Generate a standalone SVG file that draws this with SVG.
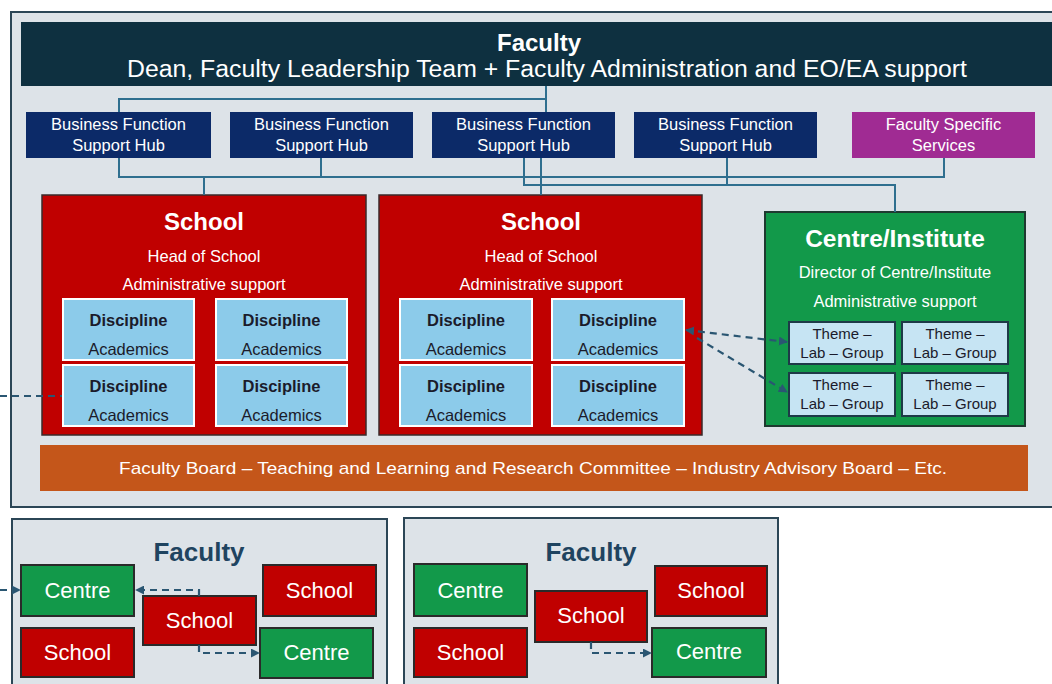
<svg xmlns="http://www.w3.org/2000/svg" width="1052" height="684" viewBox="0 0 1052 684">
  <defs>
    <style>
      .frame { fill: #dde3e8; stroke: #2b4656; stroke-width: 2; }
      .hub { fill: #0c2a68; }
      .fss { fill: #a02b93; }
      .school { fill: #c00000; stroke: #3a2a2a; stroke-width: 1.5; }
      .centre { fill: #12994a; stroke: #1e3a30; stroke-width: 2; }
      .disc { fill: #8ccbea; stroke: #ffffff; stroke-width: 2; }
      .theme { fill: #c6e4f3; stroke: #1e3a48; stroke-width: 2; }
      .small-school { fill: #c00000; stroke: #2a2a2a; stroke-width: 2; }
      .small-centre { fill: #12994a; stroke: #2a2a2a; stroke-width: 2; }
      .link { fill: none; stroke: #2f6f8f; stroke-width: 2; }
      .dash { fill: none; stroke: #2a5672; stroke-width: 2.2; stroke-dasharray: 7 5; }
      text { font-family: "Liberation Sans", Arial, sans-serif; text-anchor: middle; }
      .w { fill: #ffffff; }
      .d { fill: #1b1b2b; }
      .b { font-weight: bold; }
      .t16 { font-size: 16.5px; }
      .t15 { font-size: 15px; }
      .t22 { font-size: 22px; }
      .t24 { font-size: 24px; }
    </style>
    <marker id="arrow" viewBox="0 0 10 10" refX="9" refY="5" markerWidth="9" markerHeight="9" markerUnits="userSpaceOnUse" orient="auto-start-reverse">
      <path d="M0,0 L10,5 L0,10 z" fill="#2a5672"/>
    </marker>
  </defs>

  <rect width="1052" height="684" fill="#ffffff"/>

  <!-- main faculty frame -->
  <g id="faculty-main">
    <rect class="frame" x="11" y="12" width="1060" height="495"/>
  </g>

  <!-- faculty header bar -->
  <g id="faculty-header">
    <rect x="21" y="22" width="1040" height="64" fill="#0e3040"/>
    <text class="w b t24" x="539" y="51">Faculty</text>
    <text class="w" x="547" y="77" font-size="23" textLength="840" lengthAdjust="spacingAndGlyphs">Dean, Faculty Leadership Team + Faculty Administration and EO/EA support</text>
  </g>

  <!-- support hubs -->
  <g id="hub-1">
    <rect class="hub" x="26" y="112" width="185" height="46"/>
    <text class="w t16" x="118.5" y="130">Business Function</text>
    <text class="w t16" x="118.5" y="151">Support Hub</text>
  </g>
  <g id="hub-2">
    <rect class="hub" x="230" y="112" width="183" height="46"/>
    <text class="w t16" x="321.5" y="130">Business Function</text>
    <text class="w t16" x="321.5" y="151">Support Hub</text>
  </g>
  <g id="hub-3">
    <rect class="hub" x="432" y="112" width="183" height="46"/>
    <text class="w t16" x="523.5" y="130">Business Function</text>
    <text class="w t16" x="523.5" y="151">Support Hub</text>
  </g>
  <g id="hub-4">
    <rect class="hub" x="634" y="112" width="183" height="46"/>
    <text class="w t16" x="725.5" y="130">Business Function</text>
    <text class="w t16" x="725.5" y="151">Support Hub</text>
  </g>
  <g id="faculty-specific-services">
    <rect class="fss" x="852" y="112" width="183" height="46"/>
    <text class="w t16" x="943.5" y="130">Faculty Specific</text>
    <text class="w t16" x="943.5" y="151">Services</text>
  </g>

  <!-- school 1 -->
  <g id="school-1">
    <rect class="school" x="42" y="195" width="324" height="240"/>
    <text class="w b t24" x="204" y="230">School</text>
    <text class="w t16" x="204" y="262">Head of School</text>
    <text class="w t16" x="204" y="290">Administrative support</text>
    <rect class="disc" x="63" y="299" width="131" height="61"/>
    <rect class="disc" x="216" y="299" width="131" height="61"/>
    <rect class="disc" x="63" y="365" width="131" height="61"/>
    <rect class="disc" x="216" y="365" width="131" height="61"/>
    <text class="d b t16" x="128.5" y="326">Discipline</text>
    <text class="d t16" x="128.5" y="355">Academics</text>
    <text class="d b t16" x="281.5" y="326">Discipline</text>
    <text class="d t16" x="281.5" y="355">Academics</text>
    <text class="d b t16" x="128.5" y="392">Discipline</text>
    <text class="d t16" x="128.5" y="421">Academics</text>
    <text class="d b t16" x="281.5" y="392">Discipline</text>
    <text class="d t16" x="281.5" y="421">Academics</text>
  </g>

  <!-- school 2 -->
  <g id="school-2">
    <rect class="school" x="379" y="195" width="323" height="240"/>
    <text class="w b t24" x="541" y="230">School</text>
    <text class="w t16" x="541" y="262">Head of School</text>
    <text class="w t16" x="541" y="290">Administrative support</text>
    <rect class="disc" x="400" y="299" width="132" height="61"/>
    <rect class="disc" x="552" y="299" width="132" height="61"/>
    <rect class="disc" x="400" y="365" width="132" height="61"/>
    <rect class="disc" x="552" y="365" width="132" height="61"/>
    <text class="d b t16" x="466" y="326">Discipline</text>
    <text class="d t16" x="466" y="355">Academics</text>
    <text class="d b t16" x="618" y="326">Discipline</text>
    <text class="d t16" x="618" y="355">Academics</text>
    <text class="d b t16" x="466" y="392">Discipline</text>
    <text class="d t16" x="466" y="421">Academics</text>
    <text class="d b t16" x="618" y="392">Discipline</text>
    <text class="d t16" x="618" y="421">Academics</text>
  </g>

  <!-- centre / institute -->
  <g id="centre-institute">
    <rect class="centre" x="765" y="212" width="260" height="214"/>
    <text class="w b" x="895" y="247" font-size="24.5">Centre/Institute</text>
    <text class="w t16" x="895" y="278">Director of Centre/Institute</text>
    <text class="w t16" x="895" y="307">Administrative support</text>
    <rect class="theme" x="789" y="322" width="106" height="42"/>
    <rect class="theme" x="902" y="322" width="106" height="42"/>
    <rect class="theme" x="789" y="373" width="106" height="43"/>
    <rect class="theme" x="902" y="373" width="106" height="43"/>
    <text class="d t15" x="842" y="339">Theme –</text>
    <text class="d t15" x="842" y="358">Lab – Group</text>
    <text class="d t15" x="955" y="339">Theme –</text>
    <text class="d t15" x="955" y="358">Lab – Group</text>
    <text class="d t15" x="842" y="390">Theme –</text>
    <text class="d t15" x="842" y="409">Lab – Group</text>
    <text class="d t15" x="955" y="390">Theme –</text>
    <text class="d t15" x="955" y="409">Lab – Group</text>
  </g>

  <!-- faculty board bar -->
  <g id="faculty-board">
    <rect x="40" y="445" width="988" height="46" fill="#c4561a"/>
    <text class="w" x="533" y="474" font-size="17" textLength="828" lengthAdjust="spacingAndGlyphs">Faculty Board – Teaching and Learning and Research Committee – Industry Advisory Board – Etc.</text>
  </g>

  <!-- second faculty -->
  <g id="faculty-a">
    <rect class="frame" x="12" y="519" width="375" height="180"/>
    <text class="b" x="199" y="561" font-size="26" fill="#1f4460">Faculty</text>
    <rect class="small-centre" x="21" y="565" width="113" height="51"/>
    <text class="w t22" x="77.5" y="598">Centre</text>
    <rect class="small-school" x="21" y="628" width="113" height="49"/>
    <text class="w t22" x="77.5" y="660">School</text>
    <rect class="small-school" x="143" y="596" width="113" height="49"/>
    <text class="w t22" x="199.5" y="628">School</text>
    <rect class="small-school" x="263" y="565" width="113" height="51"/>
    <text class="w t22" x="319.5" y="598">School</text>
    <rect class="small-centre" x="260" y="628" width="113" height="50"/>
    <text class="w t22" x="316.5" y="660">Centre</text>
  </g>

  <!-- third faculty -->
  <g id="faculty-b">
    <rect class="frame" x="404" y="518" width="374" height="180"/>
    <text class="b" x="591" y="561" font-size="26" fill="#1f4460">Faculty</text>
    <rect class="small-centre" x="414" y="564" width="113" height="52"/>
    <text class="w t22" x="470.5" y="598">Centre</text>
    <rect class="small-school" x="414" y="628" width="113" height="49"/>
    <text class="w t22" x="470.5" y="660">School</text>
    <rect class="small-school" x="535" y="591" width="112" height="51"/>
    <text class="w t22" x="591" y="623">School</text>
    <rect class="small-school" x="655" y="566" width="112" height="50"/>
    <text class="w t22" x="711" y="598">School</text>
    <rect class="small-centre" x="652" y="628" width="114" height="49"/>
    <text class="w t22" x="709" y="659">Centre</text>
  </g>

  <!-- connectors, drawn last so dashed links sit over the boxes they reach into -->
  <g id="connectors">
    <polyline class="link" points="546,86 546,112"/>
    <polyline class="link" points="119,112 119,99 546,99"/>
    <polyline class="link" points="119,158 119,177 944,177 944,158"/>
    <line class="link" x1="321" y1="158" x2="321" y2="177"/>
    <line class="link" x1="204" y1="177" x2="204" y2="195"/>
    <line class="link" x1="541" y1="158" x2="541" y2="195"/>
    <polyline class="link" points="524,158 524,185 895,185 895,212"/>
    <line class="link" x1="727" y1="158" x2="727" y2="185"/>

    <line class="dash" x1="0" y1="396" x2="62" y2="396"/>
    <line class="dash" x1="686" y1="330" x2="787" y2="342" marker-start="url(#arrow)" marker-end="url(#arrow)"/>
    <line class="dash" x1="697" y1="338" x2="787" y2="392" marker-end="url(#arrow)"/>

    <line class="dash" x1="0" y1="590" x2="20" y2="590" marker-end="url(#arrow)"/>
    <polyline class="dash" points="199,596 199,590 136,590" marker-end="url(#arrow)"/>
    <polyline class="dash" points="199,645 199,653 259,653" marker-end="url(#arrow)"/>
    <polyline class="dash" points="591,642 591,653 651,653" marker-end="url(#arrow)"/>
  </g>
</svg>
